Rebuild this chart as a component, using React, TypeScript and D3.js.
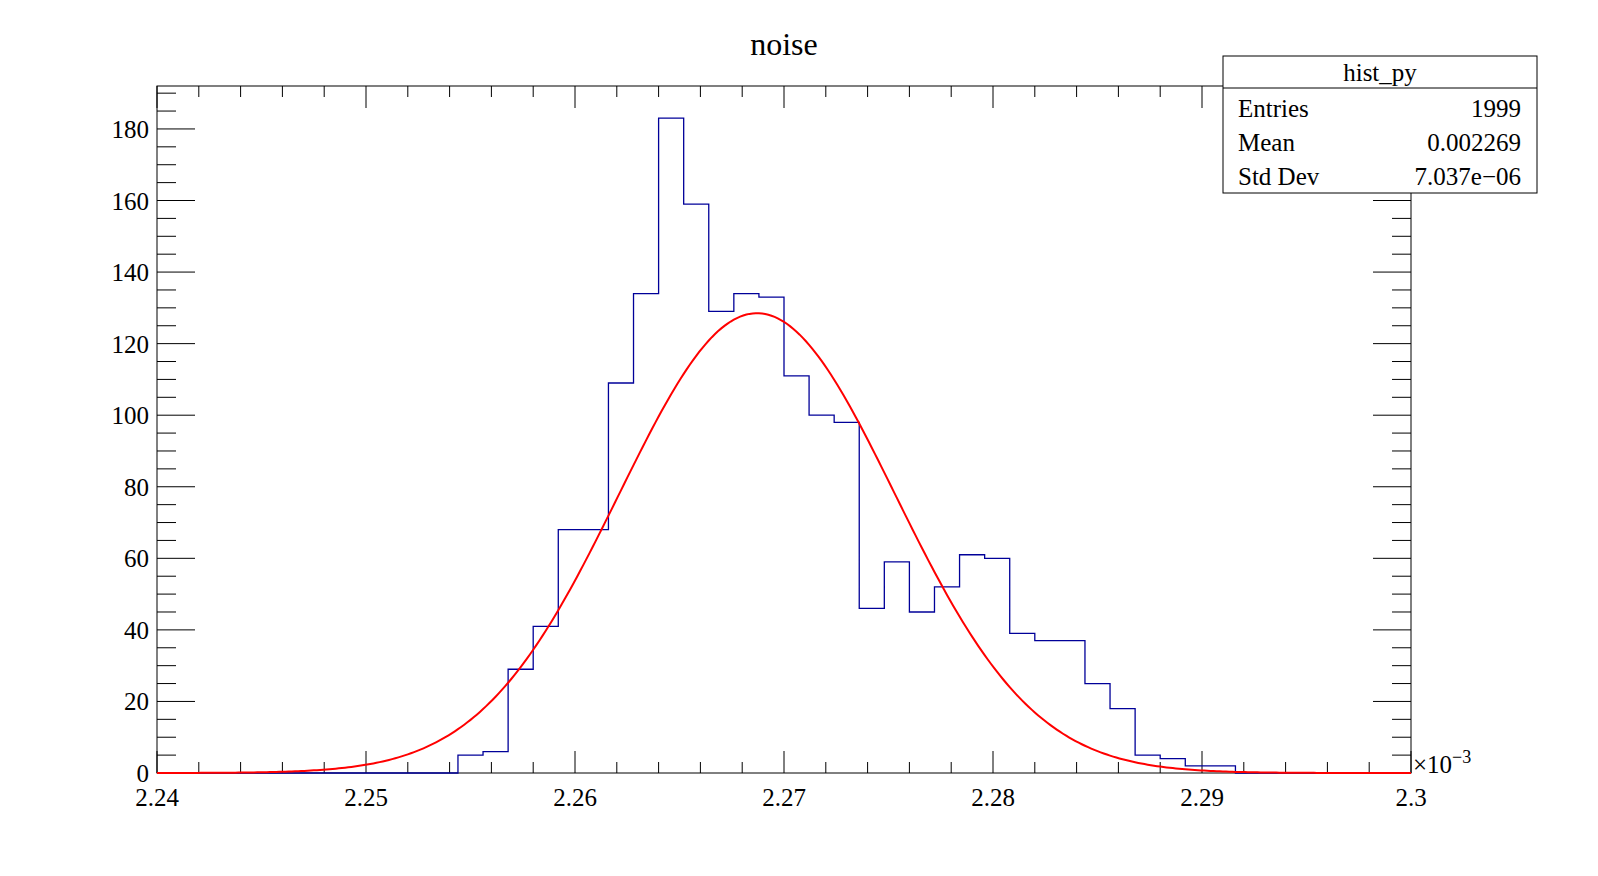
import * as d3 from "d3";
import React, { useEffect } from "react";

const W = 1598;
const H = 876;
const M = { top: 86, right: 187, bottom: 103, left: 157 };

// histogram hist_py: 50 bins over [2.24, 2.30] (x1e-3)
const xMin = 2.24;
const xMax = 2.3;
const nBins = 50;
const counts = [
    0, 0, 0, 0, 0, 0, 0, 0, 0, 0, 0, 0,
    5, 6, 29, 41, 68, 68, 109, 134, 183, 159, 129, 134, 133, 111, 100, 98,
    46, 59, 45, 52, 61, 60, 39, 37, 37, 25, 18, 5, 4, 2, 2,
    0, 0, 0, 0, 0, 0, 0,
];
// gaussian fit
const fitAmp = 128.5;
const fitMean = 2.26871;
const fitSigma = 0.0066;

const xTicks = [2.24, 2.25, 2.26, 2.27, 2.28, 2.29, 2.3];
const yTicks = [0, 20, 40, 60, 80, 100, 120, 140, 160, 180];
const stats = [
    ["Entries", "1999"],
    ["Mean", "0.002269"],
    ["Std Dev", "7.037e\u221206"],
];

const App: React.FC = () => {
    useEffect(() => {
        document.body.style.margin = "0";
        document.body.style.overflow = "hidden";
    }, []);

    const bw = W - M.left - M.right;
    const bh = H - M.top - M.bottom;
    const x = d3.scaleLinear().domain([xMin, xMax]).range([0, bw]);
    const y = d3.scaleLinear().domain([0, 192]).range([bh, 0]);
    const step = (xMax - xMin) / nBins;

    const histPts: [number, number][] = [];
    counts.forEach((c, i) => {
        histPts.push([xMin + i * step, c]);
        histPts.push([xMin + (i + 1) * step, c]);
    });
    const line = d3
        .line<[number, number]>()
        .x((d) => x(d[0]))
        .y((d) => y(d[1]));
    const histPath = line(histPts);

    const fitPts = d3.range(0, 401).map((i) => {
        const xv = xMin + (i * (xMax - xMin)) / 400;
        return [xv, fitAmp * Math.exp(-0.5 * ((xv - fitMean) / fitSigma) ** 2)] as [number, number];
    });
    const fitPath = line(fitPts);

    const xMinor = d3.range(0, 31).map((i) => xMin + i * 0.002);
    const yMinor = d3.range(0, 39).map((i) => i * 5);
    const font = "'Liberation Serif', 'DejaVu Serif', serif";

    return (
        <svg
            viewBox={`0 0 ${W} ${H}`}
            style={{ position: "fixed", left: 0, top: 0, width: "100vw", height: "100vh", background: "#fff" }}
            fontFamily={font}
        >
            <text x={784} y={55} fontSize={32} textAnchor="middle">noise</text>
            <g transform={`translate(${M.left},${M.top})`}>
                <rect width={bw} height={bh} fill="none" stroke="#000" strokeWidth={1} />
                {xMinor.map((v, i) => {
                    const len = i % 5 === 0 ? 22 : 11;
                    return (
                        <g key={i} stroke="#000">
                            <line x1={x(v)} x2={x(v)} y1={bh} y2={bh - len} />
                            <line x1={x(v)} x2={x(v)} y1={0} y2={len} />
                        </g>
                    );
                })}
                {yMinor.map((v, i) => {
                    const len = i % 4 === 0 ? 38 : 19;
                    return (
                        <g key={i} stroke="#000">
                            <line x1={0} x2={len} y1={y(v)} y2={y(v)} />
                            <line x1={bw} x2={bw - len} y1={y(v)} y2={y(v)} />
                        </g>
                    );
                })}
                {xTicks.map((v) => (
                    <text key={v} x={x(v)} y={bh + 33} fontSize={25} textAnchor="middle">{v}</text>
                ))}
                {yTicks.map((v) => (
                    <text key={v} x={-8} y={y(v) + 9} fontSize={25} textAnchor="end">{v}</text>
                ))}
                <text x={bw + 2} y={bh} fontSize={25}>
                    ×10<tspan dy={-10} fontSize={18}>−3</tspan>
                </text>
                <path d={histPath || ""} fill="none" stroke="#000099" strokeWidth={1.3} />
                <path d={fitPath || ""} fill="none" stroke="#ff0000" strokeWidth={2} />
            </g>
            <g transform="translate(1223,56)">
                <rect width={314} height={137} fill="#fff" stroke="#000" strokeWidth={1} />
                <line x1={0} x2={314} y1={32} y2={32} stroke="#000" />
                <text x={157} y={25} fontSize={25} textAnchor="middle">hist_py</text>
                {stats.map((s, i) => (
                    <g key={s[0]}>
                        <text x={15} y={61 + i * 34} fontSize={25}>{s[0]}</text>
                        <text x={298} y={61 + i * 34} fontSize={25} textAnchor="end">{s[1]}</text>
                    </g>
                ))}
            </g>
        </svg>
    );
};

export default App;
